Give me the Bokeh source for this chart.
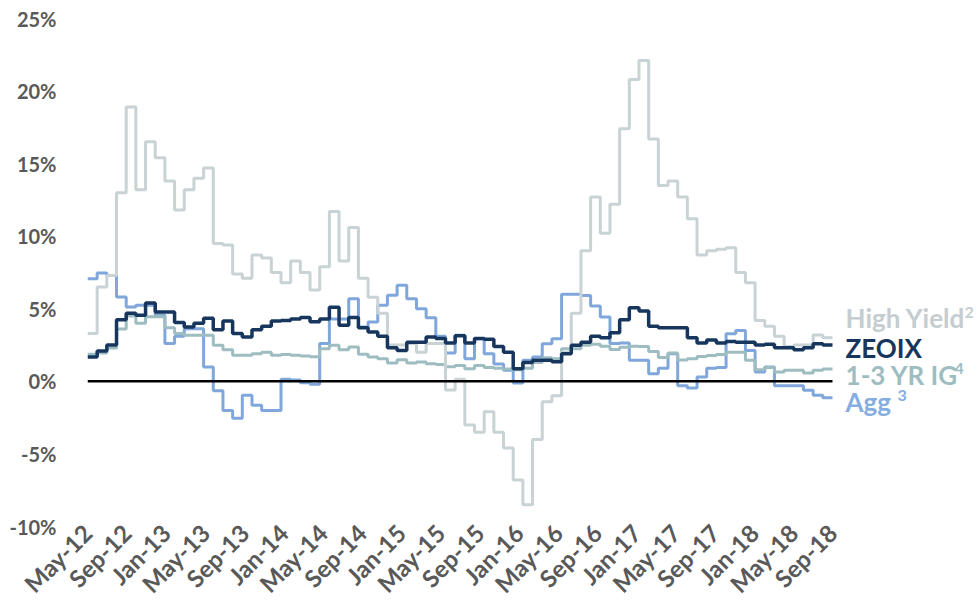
import math
from bokeh.plotting import figure
from bokeh.models import Range1d, FixedTicker, PrintfTickFormatter, Label
from bokeh.embed import file_html
from bokeh.resources import INLINE

# ---------------- data ----------------
tick_labels = ["May-12", "Sep-12", "Jan-13", "May-13", "Sep-13", "Jan-14", "May-14",
               "Sep-14", "Jan-15", "May-15", "Sep-15", "Jan-16", "May-16", "Sep-16",
               "Jan-17", "May-17", "Sep-17", "Jan-18", "May-18", "Sep-18"]

high_yield = [3.3, 6.5, 7.3, 13.0, 18.9, 13.2, 16.5, 15.4, 13.8, 11.8,
              13.2, 14.0, 14.7, 9.5, 9.4, 7.4, 7.1, 8.7, 8.5, 7.5,
              6.8, 8.3, 7.5, 6.3, 7.9, 11.7, 8.3, 10.6, 7.1, 5.8,
              4.7, 2.5, 2.5, 2.6, 2.0, 2.6, 2.6, -0.6, 0.15, -3.0,
              -3.5, -2.1, -3.5, -4.6, -6.8, -8.5, -4.0, -1.4, -1.0, 2.0,
              4.7, 9.0, 12.7, 10.2, 12.2, 17.4, 20.8, 22.1, 16.7, 13.5,
              13.8, 12.7, 11.2, 8.7, 9.0, 9.1, 9.2, 7.5, 6.8, 4.2,
              3.8, 3.1, 2.4, 2.5, 2.5, 3.2, 3.0]

zeoix = [1.67, 2.1, 2.5, 4.25, 4.7, 4.55, 5.4, 4.77, 4.77, 4.05,
         3.74, 4.0, 4.35, 3.55, 4.16, 3.3, 3.05, 3.55, 3.8, 4.16,
         4.2, 4.3, 4.4, 4.1, 4.3, 5.1, 3.86, 4.4, 3.7, 3.4,
         3.1, 2.32, 2.13, 2.7, 2.7, 3.05, 2.95, 2.65, 3.15, 2.65,
         2.95, 2.9, 2.4, 2.0, 0.87, 1.3, 1.45, 1.45, 1.35, 1.9,
         2.48, 2.7, 3.1, 3.0, 3.35, 4.25, 5.07, 4.84, 3.8, 3.7,
         3.7, 3.7, 3.0, 2.65, 2.85, 2.64, 2.75, 2.7, 2.7, 2.5,
         2.55, 2.32, 2.32, 2.18, 2.32, 2.59, 2.5]

ig_1_3 = [1.86, 1.95, 2.3, 3.6, 4.5, 4.0, 4.45, 4.45, 3.7, 3.3,
          3.17, 3.17, 3.17, 2.48, 2.18, 1.8, 1.8, 1.9, 2.0, 1.8,
          1.85, 1.8, 1.75, 1.7, 2.25, 2.48, 2.18, 2.36, 1.86, 1.67,
          1.56, 1.26, 1.49, 1.26, 1.33, 1.22, 1.17, 1.0, 1.1, 0.87,
          1.1, 0.95, 0.9, 0.85, 0.8, 0.9, 1.3, 1.63, 1.56, 2.25,
          2.25, 2.48, 2.55, 2.42, 2.2, 2.35, 2.42, 2.4, 2.05, 1.65,
          1.95, 1.48, 1.56, 1.72, 1.79, 1.85, 2.0, 2.0, 1.45, 0.8,
          0.95, 0.65, 0.76, 0.76, 0.57, 0.76, 0.85]

agg = [7.07, 7.46, 7.3, 5.81, 5.12, 5.24, 5.24, 4.55, 2.6, 3.1,
       3.63, 3.63, 0.99, -0.65, -2.0, -2.55, -0.96, -1.65, -2.0, -2.0,
       0.15, 0.1, -0.1, -0.2, 2.6, 4.3, 4.3, 5.7, 3.74, 4.09,
       5.24, 5.93, 6.62, 5.7, 5.0, 4.39, 3.1, 1.95, 3.17, 1.56,
       2.94, 1.9, 1.2, 0.76, -0.12, 1.45, 1.68, 2.59, 2.94, 6.0,
       6.0, 5.92, 5.2, 4.43, 2.6, 2.65, 1.45, 1.45, 0.53, 0.9,
       1.9, -0.3, -0.45, 0.3, 0.9, 0.95, 3.28, 3.5, 2.13, 0.64,
       0.99, -0.3, -0.3, -0.3, -0.62, -0.96, -1.13]

y_ticks = [-10, -5, 0, 5, 10, 15, 20, 25]

# end-of-line labels
end_names = ["High Yield", "ZEOIX", "1-3 YR IG", "Agg"]
end_sups = ["2", "", "4", "3"]

# ---------------- layout ----------------
W, H = 977, 611
FRAME_L, FRAME_T, FRAME_R, FRAME_B = 87, 18, 2, 85
n = len(zeoix)
n_ticks = len(tick_labels)
unit = (n_ticks - 1) / n            # tick units per monthly step
px_per_step = 745.0 / n             # pixel width of one monthly step
frame_w = W - FRAME_L - FRAME_R
x_end = frame_w / px_per_step * unit

xs = [i * unit for i in range(n + 1)]

FONT = "Lato"
GREY_TXT = "#595959"
C_HY, C_ZE, C_IG, C_AGG = "#c9d2d4", "#17365d", "#9dbdc1", "#7fa7db"

p = figure(width=W, height=H, output_backend="svg", toolbar_location=None,
           x_range=Range1d(0, x_end), y_range=Range1d(-10, 25),
           min_border_left=FRAME_L, min_border_right=FRAME_R,
           min_border_top=FRAME_T, min_border_bottom=FRAME_B)
p.outline_line_color = None
p.xgrid.visible = False
p.ygrid.visible = False
p.background_fill_color = "white"
p.border_fill_color = "white"

series = [
    (agg, C_AGG, 3),
    (ig_1_3, C_IG, 3),
    (high_yield, C_HY, 3),
    (zeoix, C_ZE, 3.5),
]
for vals, col, lw in series:
    p.step(x=xs, y=list(vals) + [vals[-1]], mode="after",
           line_color=col, line_width=lw)

# zero line across the data span
p.line(x=[xs[0], xs[-1]], y=[0, 0], line_color="black", line_width=2.5)

# y axis
ya = p.yaxis[0]
ya.ticker = FixedTicker(ticks=y_ticks)
ya.formatter = PrintfTickFormatter(format="%d%%")
ya.axis_line_color = None
ya.major_tick_line_color = None
ya.minor_tick_line_color = None
ya.major_tick_out = 0
ya.major_tick_in = 0
ya.minor_tick_out = 0
ya.major_label_standoff = 31
ya.major_label_text_font = FONT
ya.major_label_text_font_style = "bold"
ya.major_label_text_font_size = "20px"
ya.major_label_text_color = GREY_TXT

# x axis
xa = p.xaxis[0]
xa.ticker = FixedTicker(ticks=list(range(n_ticks)))
xa.major_label_overrides = {i: t for i, t in enumerate(tick_labels)}
xa.axis_line_color = None
xa.major_tick_line_color = None
xa.minor_tick_line_color = None
xa.major_tick_out = 0
xa.major_tick_in = 0
xa.minor_tick_out = 0
xa.major_label_orientation = math.pi / 4
xa.major_label_standoff = 2
xa.major_label_text_font = FONT
xa.major_label_text_font_style = "bold"
xa.major_label_text_font_size = "24px"
xa.major_label_text_color = GREY_TXT

# end-of-line labels
label_x = 78.35 * unit
label_y = [4.35, 2.3, 0.45, -1.4]
label_cols = ["#c5cdd0", C_ZE, "#9dbdc1", "#85ade0"]
sup_dx = [119, 0, 109, 52]     # screen offset of superscript after the name
for name, sup, yv, col, dx in zip(end_names, end_sups, label_y, label_cols, sup_dx):
    p.add_layout(Label(x=label_x, y=yv, text=name, text_font=FONT,
                       text_font_style="bold", text_font_size="26px",
                       text_color=col, text_baseline="middle", text_align="left"))
    if sup:
        p.add_layout(Label(x=label_x, y=yv + 0.42, x_offset=dx, text=sup,
                           text_font=FONT, text_font_style="bold",
                           text_font_size="16px", text_color=col,
                           text_baseline="middle", text_align="left"))

open("out.html", "w").write(file_html(p, INLINE))
